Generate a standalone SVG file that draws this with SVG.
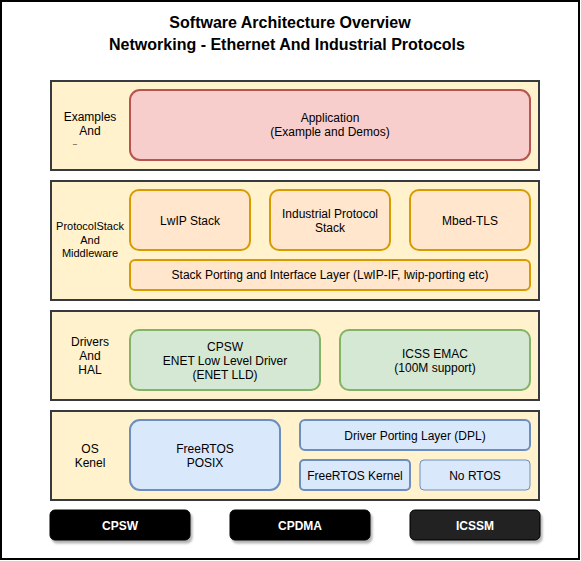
<svg xmlns="http://www.w3.org/2000/svg" width="581" height="561" viewBox="0 0 581 561">
<style>
text{font-family:"Liberation Sans",Arial,sans-serif;font-size:12px;fill:#000;text-anchor:middle}
.title{font-size:16px;font-weight:bold}
.layer{fill:#fff2cc;stroke:#36393d;stroke-width:2}
.app{fill:#f8cecc;stroke:#b85450;stroke-width:2}
.stk{fill:#ffe6cc;stroke:#d79b00;stroke-width:2}
.drv{fill:#d5e8d4;stroke:#82b366;stroke-width:2}
.os{fill:#dae8fc;stroke:#6c8ebf;stroke-width:2}
.hw{stroke:#000;stroke-width:1}
.hwt{fill:#fff;font-weight:bold}
.small{font-size:11px}
</style>
<defs>
<filter id="sh" x="-10%" y="-20%" width="130%" height="160%">
<feGaussianBlur in="SourceAlpha" stdDeviation="1"/>
<feOffset dx="2" dy="3"/>
<feComponentTransfer><feFuncA type="linear" slope="0.3"/></feComponentTransfer>
<feMerge><feMergeNode/><feMergeNode in="SourceGraphic"/></feMerge>
</filter>
</defs>
<rect x="0" y="0" width="581" height="561" fill="#fff"/>
<rect x="1" y="1" width="578" height="558" fill="none" stroke="#000" stroke-width="2"/>
<g id="title">
<text class="title" x="290" y="28">Software Architecture Overview</text>
<text class="title" x="287" y="50">Networking - Ethernet And Industrial Protocols</text>
</g>
<g id="layer-examples">
<rect class="layer" x="51" y="81" width="488" height="89"/>
<text x="90" y="121">Examples</text>
<text x="90" y="135">And</text>
<text x="73" y="143" style="text-anchor:start;font-size:7px">_</text>
</g>
<g id="layer-stack">
<rect class="layer" x="51" y="181" width="488" height="119"/>
<text class="small" x="90" y="230">ProtocolStack</text>
<text class="small" x="90" y="244">And</text>
<text class="small" x="90" y="257">Middleware</text>
</g>
<g id="layer-drivers">
<rect class="layer" x="51" y="311" width="488" height="89"/>
<text x="90" y="346">Drivers</text>
<text x="90" y="360">And</text>
<text x="90" y="374">HAL</text>
</g>
<g id="layer-os">
<rect class="layer" x="51" y="411" width="488" height="89"/>
<text x="90" y="453">OS</text>
<text x="90" y="467">Kenel</text>
</g>
<g id="application">
<rect class="app" x="130" y="90" width="400" height="70" rx="10"/>
<text x="330" y="122">Application</text>
<text x="330" y="136">(Example and Demos)</text>
</g>
<g id="lwip">
<rect class="stk" x="130" y="190" width="120" height="60" rx="9"/>
<text x="190" y="225">LwIP Stack</text>
</g>
<g id="industrial">
<rect class="stk" x="270" y="190" width="120" height="60" rx="9"/>
<text x="330" y="218">Industrial Protocol</text>
<text x="330" y="232">Stack</text>
</g>
<g id="mbedtls">
<rect class="stk" x="410" y="190" width="120" height="60" rx="9"/>
<text x="470" y="225">Mbed-TLS</text>
</g>
<g id="stack-porting">
<rect class="stk" x="130" y="260" width="400" height="30" rx="5"/>
<text x="330" y="279">Stack Porting and Interface Layer (LwIP-IF, lwip-porting etc)</text>
</g>
<g id="cpsw-lld">
<rect class="drv" x="130" y="330" width="190" height="60" rx="9"/>
<text x="225" y="351">CPSW</text>
<text x="225" y="365">ENET Low Level Driver</text>
<text x="225" y="379">(ENET LLD)</text>
</g>
<g id="icss-emac">
<rect class="drv" x="340" y="330" width="190" height="60" rx="9"/>
<text x="435" y="358">ICSS EMAC</text>
<text x="435" y="372">(100M support)</text>
</g>
<g id="freertos-posix">
<rect class="os" x="130" y="420" width="150" height="70" rx="10"/>
<text x="205" y="453">FreeRTOS</text>
<text x="205" y="467">POSIX</text>
</g>
<g id="dpl">
<rect class="os" x="300" y="420" width="230" height="30" rx="5"/>
<text x="415" y="440">Driver Porting Layer (DPL)</text>
</g>
<g id="freertos-kernel">
<rect class="os" x="300" y="460" width="110" height="30" rx="4"/>
<text x="355" y="480">FreeRTOS Kernel</text>
</g>
<g id="no-rtos">
<rect class="os" x="420" y="460" width="110" height="30" rx="4" style="stroke-width:1"/>
<text x="475" y="480">No RTOS</text>
</g>
<g id="hw-cpsw">
<rect class="hw" x="50" y="510" width="140" height="30" rx="5" fill="#000" filter="url(#sh)"/>
<text class="hwt" x="120" y="530">CPSW</text>
</g>
<g id="hw-cpdma">
<rect class="hw" x="230" y="510" width="140" height="30" rx="5" fill="#000" filter="url(#sh)"/>
<text class="hwt" x="300" y="530">CPDMA</text>
</g>
<g id="hw-icssm">
<rect class="hw" x="410" y="510" width="130" height="30" rx="5" fill="#222" filter="url(#sh)"/>
<text class="hwt" x="475" y="530">ICSSM</text>
</g>
<g id="connectors"></g>
</svg>
